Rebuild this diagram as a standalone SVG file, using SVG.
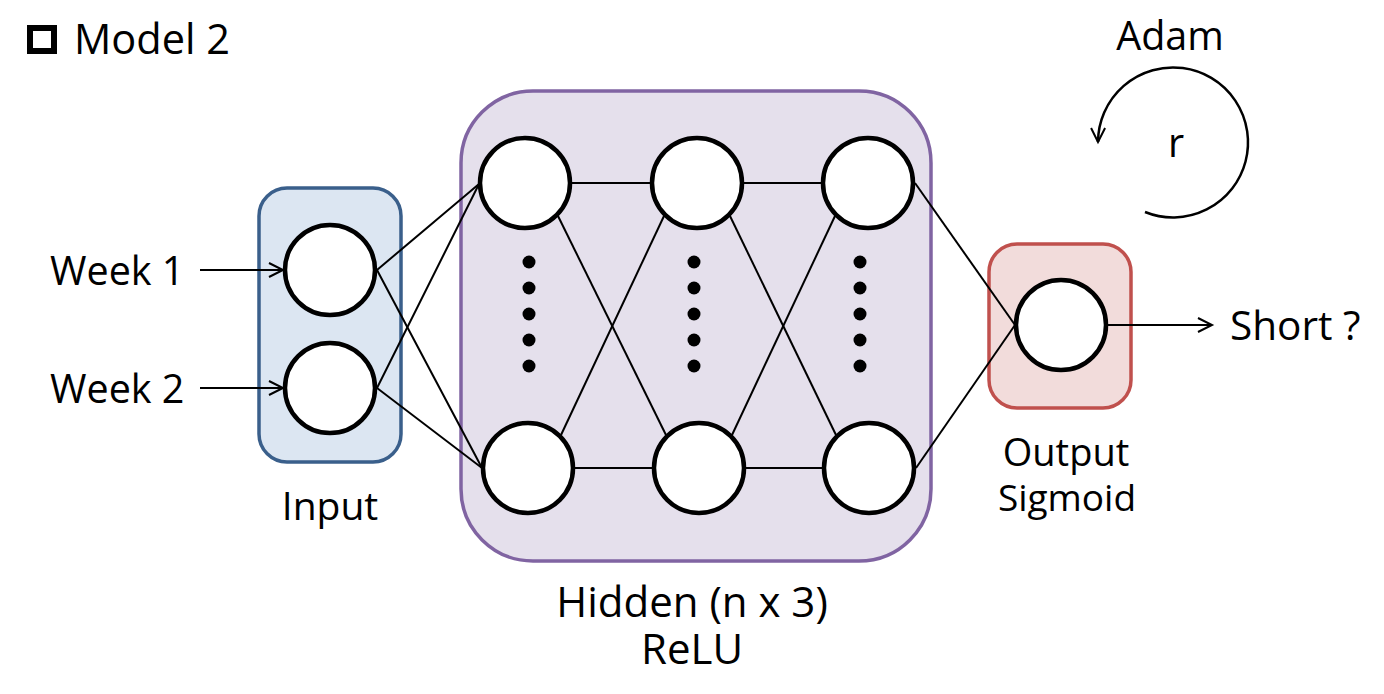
<svg xmlns="http://www.w3.org/2000/svg" width="1384" height="694" viewBox="0 0 1384 694">
<style>
text{font-family:"Open Sans","DejaVu Sans",sans-serif;fill:#000;}
.t{font-size:39.5px;}
.node{fill:#fff;stroke:#000;stroke-width:4.5;}
.edge{stroke:#000;stroke-width:2;fill:none;}
.dot{fill:#000;}
</style>
<defs>
<marker id="arr" markerUnits="userSpaceOnUse" markerWidth="24" markerHeight="24" viewBox="-18 -12 24 24" refX="0" refY="0" orient="auto">
<path d="M-14,-7 L0,0 L-14,7" fill="none" stroke="#000" stroke-width="2"/>
</marker>
</defs>
<rect width="1384" height="694" fill="#fff"/>

<g id="title">
<rect x="30" y="28" width="24" height="23" fill="none" stroke="#000" stroke-width="6"/>
<text x="74" y="54" style="font-size:41.5px">Model 2</text>
</g>

<g id="input-box">
<rect x="259" y="188" width="142" height="274" rx="28" fill="#DCE6F2" stroke="#3A5F8B" stroke-width="3.5"/>
<text x="330" y="520" text-anchor="middle" style="font-size:39px">Input</text>
</g>
<g id="hidden-box">
<rect x="461" y="91" width="470" height="470" rx="72" fill="#E5E0EC" stroke="#8064A2" stroke-width="3.5"/>
<text x="692" y="617" text-anchor="middle" style="font-size:42px">Hidden (n x 3)</text>
<text x="692" y="664" text-anchor="middle" style="font-size:42px">ReLU</text>
</g>
<g id="output-box">
<rect x="989" y="244" width="142" height="164" rx="28" fill="#F2DCDB" stroke="#C0504D" stroke-width="3.5"/>
<text x="1066" y="466" text-anchor="middle" style="font-size:38px">Output</text>
<text x="1067" y="511" text-anchor="middle" style="font-size:37px">Sigmoid</text>
</g>

<g id="connectors">
<line class="edge" x1="200" y1="270" x2="283" y2="270" marker-end="url(#arr)"/>
<line class="edge" x1="200" y1="388" x2="283" y2="388" marker-end="url(#arr)"/>
<line class="edge" x1="377" y1="270" x2="479" y2="184"/>
<line class="edge" x1="377" y1="270" x2="482" y2="468"/>
<line class="edge" x1="377" y1="388" x2="479" y2="184"/>
<line class="edge" x1="377" y1="388" x2="482" y2="468"/>
<line class="edge" x1="571" y1="183" x2="651" y2="183"/>
<line class="edge" x1="743" y1="183" x2="822" y2="183"/>
<line class="edge" x1="574" y1="468" x2="653" y2="468"/>
<line class="edge" x1="745" y1="468" x2="823" y2="468"/>
<line class="edge" x1="558" y1="216" x2="666" y2="435"/>
<line class="edge" x1="561" y1="435" x2="664" y2="216"/>
<line class="edge" x1="730" y1="216" x2="836" y2="435"/>
<line class="edge" x1="732" y1="435" x2="835" y2="216"/>
<line class="edge" x1="915" y1="183" x2="1015" y2="325"/>
<line class="edge" x1="916" y1="468" x2="1015" y2="325"/>
<line class="edge" x1="1108" y1="325" x2="1212" y2="325" marker-end="url(#arr)"/>
</g>

<g id="input-nodes">
<circle id="in1" class="node" cx="330" cy="270" r="45"/>
<circle id="in2" class="node" cx="330" cy="388" r="45"/>
</g>
<g id="hidden-nodes">
<circle id="h11" class="node" cx="525" cy="183" r="45"/>
<circle id="h21" class="node" cx="697" cy="183" r="45"/>
<circle id="h31" class="node" cx="868" cy="183" r="45"/>
<circle id="h12" class="node" cx="528" cy="468" r="45"/>
<circle id="h22" class="node" cx="699" cy="468" r="45"/>
<circle id="h32" class="node" cx="869" cy="468" r="45"/>
</g>
<g id="dots">
<circle class="dot" cx="529" cy="262" r="6.5"/><circle class="dot" cx="529" cy="288" r="6.5"/><circle class="dot" cx="529" cy="314" r="6.5"/><circle class="dot" cx="529" cy="340" r="6.5"/><circle class="dot" cx="529" cy="366" r="6.5"/>
<circle class="dot" cx="694" cy="262" r="6.5"/><circle class="dot" cx="694" cy="288" r="6.5"/><circle class="dot" cx="694" cy="314" r="6.5"/><circle class="dot" cx="694" cy="340" r="6.5"/><circle class="dot" cx="694" cy="366" r="6.5"/>
<circle class="dot" cx="860" cy="262" r="6.5"/><circle class="dot" cx="860" cy="288" r="6.5"/><circle class="dot" cx="860" cy="314" r="6.5"/><circle class="dot" cx="860" cy="340" r="6.5"/><circle class="dot" cx="860" cy="366" r="6.5"/>
</g>
<g id="output-node">
<circle id="out" class="node" cx="1061" cy="325" r="45"/>
</g>

<g id="labels">
<text class="t" x="50" y="285">Week 1</text>
<text class="t" x="50" y="403">Week 2</text>
<text x="1230" y="340" style="font-size:40.5px">Short ?</text>
</g>

<g id="optimizer">
<text class="t" x="1170" y="50" text-anchor="middle">Adam</text>
<path d="M1145,212 A75,75 0 1 0 1098,142" fill="none" stroke="#000" stroke-width="2.5" marker-end="url(#arr)"/>
<text class="t" x="1176" y="157" text-anchor="middle">r</text>
</g>
</svg>
